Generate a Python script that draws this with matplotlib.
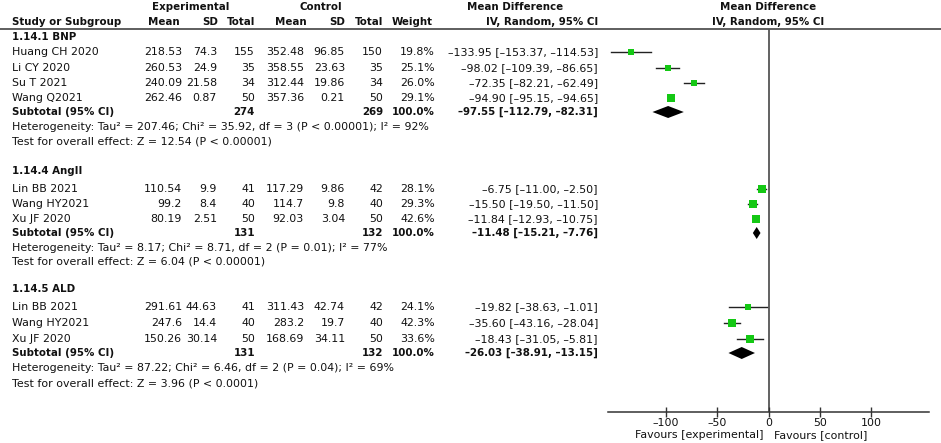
import matplotlib
matplotlib.use("Agg")
import matplotlib.pyplot as plt

plt.rcParams['font.family'] = ['DejaVu Sans']

# ---------------- data ----------------
group_titles = ["1.14.1 BNP", "1.14.4 AngII", "1.14.5 ALD"]

g1_names = ["Huang CH 2020", "Li CY 2020", "Su T 2021", "Wang Q2021"]
g1_exp_mean = ["218.53", "260.53", "240.09", "262.46"]
g1_exp_sd = ["74.3", "24.9", "21.58", "0.87"]
g1_exp_n = [155, 35, 34, 50]
g1_ctl_mean = ["352.48", "358.55", "312.44", "357.36"]
g1_ctl_sd = ["96.85", "23.63", "19.86", "0.21"]
g1_ctl_n = [150, 35, 34, 50]
g1_weight = [19.8, 25.1, 26.0, 29.1]
g1_md = [-133.95, -98.02, -72.35, -94.90]
g1_lo = [-153.37, -109.39, -82.21, -95.15]
g1_hi = [-114.53, -86.65, -62.49, -94.65]

g2_names = ["Lin BB 2021", "Wang HY2021", "Xu JF 2020"]
g2_exp_mean = ["110.54", "99.2", "80.19"]
g2_exp_sd = ["9.9", "8.4", "2.51"]
g2_exp_n = [41, 40, 50]
g2_ctl_mean = ["117.29", "114.7", "92.03"]
g2_ctl_sd = ["9.86", "9.8", "3.04"]
g2_ctl_n = [42, 40, 50]
g2_weight = [28.1, 29.3, 42.6]
g2_md = [-6.75, -15.50, -11.84]
g2_lo = [-11.00, -19.50, -12.93]
g2_hi = [-2.50, -11.50, -10.75]

g3_names = ["Lin BB 2021", "Wang HY2021", "Xu JF 2020"]
g3_exp_mean = ["291.61", "247.6", "150.26"]
g3_exp_sd = ["44.63", "14.4", "30.14"]
g3_exp_n = [41, 40, 50]
g3_ctl_mean = ["311.43", "283.2", "168.69"]
g3_ctl_sd = ["42.74", "19.7", "34.11"]
g3_ctl_n = [42, 40, 50]
g3_weight = [24.1, 42.3, 33.6]
g3_md = [-19.82, -35.60, -18.43]
g3_lo = [-38.63, -43.16, -31.05]
g3_hi = [-1.01, -28.04, -5.81]

sub_exp_n = [274, 131, 131]
sub_ctl_n = [269, 132, 132]
sub_md = [-97.55, -11.48, -26.03]
sub_lo = [-112.79, -15.21, -38.91]
sub_hi = [-82.31, -7.76, -13.15]

het_tau2 = ["207.46", "8.17", "87.22"]
het_chi2 = ["35.92", "8.71", "6.46"]
het_df = [3, 2, 2]
het_p = ["P < 0.00001", "P = 0.01", "P = 0.04"]
het_i2 = [92, 77, 69]
test_z = ["12.54", "6.04", "3.96"]
test_p = ["P < 0.00001", "P < 0.00001", "P < 0.0001"]

x_ticks = [-100, -50, 0, 50, 100]

groups = [
    (g1_names, g1_exp_mean, g1_exp_sd, g1_exp_n, g1_ctl_mean, g1_ctl_sd, g1_ctl_n, g1_weight, g1_md, g1_lo, g1_hi),
    (g2_names, g2_exp_mean, g2_exp_sd, g2_exp_n, g2_ctl_mean, g2_ctl_sd, g2_ctl_n, g2_weight, g2_md, g2_lo, g2_hi),
    (g3_names, g3_exp_mean, g3_exp_sd, g3_exp_n, g3_ctl_mean, g3_ctl_sd, g3_ctl_n, g3_weight, g3_md, g3_lo, g3_hi),
]

# ---------------- layout (pixel rows) ----------------
W, H = 941, 443
group_header_y = [37, 171, 289]
study_rows = [[52, 68, 83, 98], [189, 204, 219], [307, 323, 339]]
sub_rows = [112, 233, 353]
het_rows = [127, 248, 368]
test_rows = [142, 262, 384]

FS = 7.9
FSB = 7.4
TXT = '#111111'
GREEN = '#14c814'
DASH = '\u2013'

def fmt(v):
    return f"{v:.2f}".replace('-', DASH)

fig = plt.figure(figsize=(W / 100, H / 100), dpi=100)
tax = fig.add_axes([0, 0, 1, 1])
tax.set_xlim(0, W)
tax.set_ylim(H, 0)
tax.axis('off')

col_x = {'name': 12, 'em': 182, 'esd': 217, 'en': 255, 'cm': 304, 'csd': 345, 'cn': 383, 'w': 435, 'md': 598}

def t(x, y, s, ha='right', bold=False):
    tax.text(x, y, s, ha=ha, va='center', fontsize=FSB if bold else FS, color=TXT,
             fontweight='bold' if bold else 'normal')

# header
t(191, 7, "Experimental", ha='center', bold=True)
t(321, 7, "Control", ha='center', bold=True)
t(515, 7, "Mean Difference", ha='center', bold=True)
t(768, 7, "Mean Difference", ha='center', bold=True)
t(12, 22, "Study or Subgroup", ha='left', bold=True)
t(180, 22, "Mean", bold=True)
t(218, 22, "SD", bold=True)
t(255, 22, "Total", bold=True)
t(307, 22, "Mean", bold=True)
t(345, 22, "SD", bold=True)
t(383, 22, "Total", bold=True)
t(433, 22, "Weight", bold=True)
t(598, 22, "IV, Random, 95% CI", bold=True)
t(768, 22, "IV, Random, 95% CI", ha='center', bold=True)
tax.plot([0, W], [29, 29], color='#333333', lw=1.1)

for gi, g in enumerate(groups):
    names, em, esd, en, cm, csd, cn, wt, md, lo, hi = g
    t(12, group_header_y[gi], group_titles[gi], ha='left', bold=True)
    for i, y in enumerate(study_rows[gi]):
        t(12, y, names[i], ha='left')
        t(col_x['em'], y, em[i])
        t(col_x['esd'], y, esd[i])
        t(col_x['en'], y, str(en[i]))
        t(col_x['cm'], y, cm[i])
        t(col_x['csd'], y, csd[i])
        t(col_x['cn'], y, str(cn[i]))
        t(col_x['w'], y, f"{wt[i]:.1f}%")
        t(col_x['md'], y, f"{fmt(md[i])} [{fmt(lo[i])}, {fmt(hi[i])}]")
    ys = sub_rows[gi]
    t(12, ys, "Subtotal (95% CI)", ha='left', bold=True)
    t(col_x['en'], ys, str(sub_exp_n[gi]), bold=True)
    t(col_x['cn'], ys, str(sub_ctl_n[gi]), bold=True)
    t(col_x['w'], ys, "100.0%", bold=True)
    t(col_x['md'], ys, f"{fmt(sub_md[gi])} [{fmt(sub_lo[gi])}, {fmt(sub_hi[gi])}]", bold=True)
    t(12, het_rows[gi],
      f"Heterogeneity: Tau\u00b2 = {het_tau2[gi]}; Chi\u00b2 = {het_chi2[gi]}, df = {het_df[gi]} ({het_p[gi]}); I\u00b2 = {het_i2[gi]}%",
      ha='left')
    t(12, test_rows[gi], f"Test for overall effect: Z = {test_z[gi]} ({test_p[gi]})", ha='left')

# ---------------- forest axes ----------------
ax_left, ax_right, ax_top, ax_bot = 608, 929, 29, 412
fax = fig.add_axes([ax_left / W, (H - ax_bot) / H, (ax_right - ax_left) / W, (ax_bot - ax_top) / H])
fax.patch.set_alpha(0)
fax.set_xlim(-156, 156)
fax.set_ylim(ax_bot, ax_top)
for s in ['top', 'right', 'left']:
    fax.spines[s].set_visible(False)
fax.spines['bottom'].set_color('#333333')
fax.spines['bottom'].set_linewidth(1.1)
fax.set_yticks([])
fax.set_xticks(x_ticks)
fax.set_xticklabels([str(v).replace('-', DASH) for v in x_ticks])
fax.tick_params(axis='x', direction='inout', length=7, width=1, color='#333333',
                labelsize=FS, labelcolor=TXT, pad=1)
fax.axvline(0, color='#555555', lw=1.3, zorder=1)

for gi, g in enumerate(groups):
    names, em, esd, en, cm, csd, cn, wt, md, lo, hi = g
    for i, y in enumerate(study_rows[gi]):
        fax.plot([lo[i], hi[i]], [y, y], color='#222222', lw=1.0, zorder=2)
        side_px = 1.35 * wt[i] ** 0.5
        fax.plot([md[i]], [y], marker='s', markersize=side_px * 0.72, color=GREEN,
                 markeredgewidth=0, linestyle='none', zorder=3)
    ys = sub_rows[gi]
    fax.fill([sub_lo[gi], sub_md[gi], sub_hi[gi], sub_md[gi]], [ys, ys - 6, ys, ys + 6],
             color='black', zorder=3, lw=0)

tax.text(764, 435, "Favours [experimental]", ha='right', va='center', fontsize=FS, color=TXT)
tax.text(774, 435, "Favours [control]", ha='left', va='center', fontsize=FS, color=TXT)

fig.savefig("out.png", dpi=100)
